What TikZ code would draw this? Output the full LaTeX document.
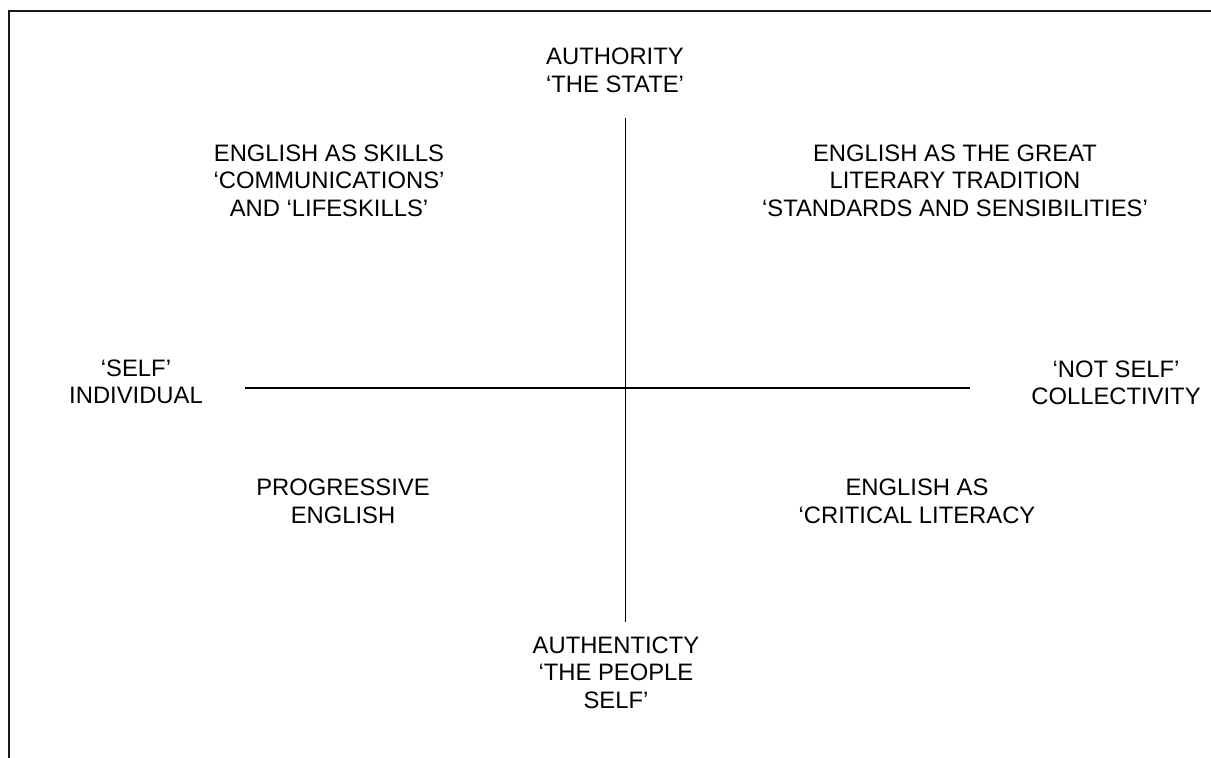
\documentclass[tikz,border=0pt]{standalone}
\usepackage{fontspec}
\setmainfont{Liberation Sans}
\begin{document}
\begin{tikzpicture}[x=1pt,y=-1pt,
  lbl/.style={align=center, inner sep=0pt, font=\fontsize{23.8}{27.6}\selectfont},
  axisline/.style={line width=1.5pt, black},
  frameline/.style={line width=2.2pt, black!90}]
\useasboundingbox (0,0) rectangle (1211,758);
% frame
\coordinate (f1) at (9,758);
\coordinate (f2) at (9,11);
\coordinate (f3) at (1211,11);
\draw[frameline] (f1) -- (f2) -- (f3);
% axes
\coordinate (vt) at (625.5,118);
\coordinate (vb) at (625.5,622);
\coordinate (hl) at (245,388);
\coordinate (hr) at (970,388);
\draw[axisline] (vt) -- (vb);
\draw[axisline] (hl) -- (hr);
% labels
\node[lbl] (auth) at (615,70.2) {AUTHORITY\\‘THE STATE’};
\node[lbl] (skills) at (329,180.5) {ENGLISH AS SKILLS\\‘COMMUNICATIONS’\\AND ‘LIFESKILLS’};
\node[lbl] (great) at (955,180.5) {ENGLISH AS THE GREAT\\LITERARY TRADITION\\‘STANDARDS AND SENSIBILITIES’};
\node[lbl] (self) at (136,382) {‘SELF’\\INDIVIDUAL};
\node[lbl] (notself) at (1116,383) {‘NOT SELF’\\COLLECTIVITY};
\node[lbl] (prog) at (343,501) {PROGRESSIVE\\ENGLISH};
\node[lbl] (crit) at (917,501) {ENGLISH AS\\‘CRITICAL LITERACY};
\node[lbl] (authent) at (616,672.5) {AUTHENTICTY\\‘THE PEOPLE\\SELF’};
\end{tikzpicture}
\end{document}
